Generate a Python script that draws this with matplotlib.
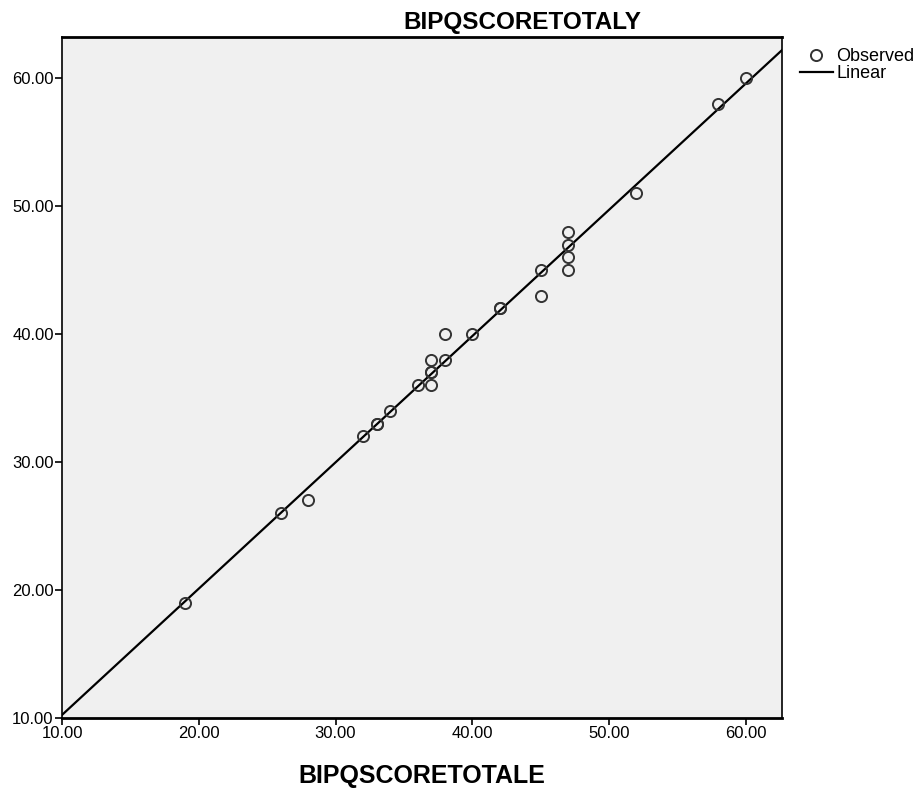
import numpy as np
import matplotlib.pyplot as plt

plt.rcParams['font.family'] = ['Liberation Sans', 'DejaVu Sans']

# observed values (BIPQ score, E vs Y)
score_e = [19, 26, 28, 32, 33, 33, 34, 36, 37, 37, 37, 37, 38, 38, 40, 42, 42,
           45, 45, 47, 47, 47, 47, 52, 58, 60]
score_y = [19, 26, 27, 32, 33, 33, 34, 36, 37, 37, 38, 36, 38, 40, 40, 42, 42,
           45, 43, 48, 47, 46, 45, 51, 58, 60]
xticks = [10, 20, 30, 40, 50, 60]
yticks = [10, 20, 30, 40, 50, 60]

x = np.array(score_e, dtype=float)
y = np.array(score_y, dtype=float)
b, a = np.polyfit(x, y, 1)

fig = plt.figure(figsize=(9.19, 7.93), dpi=100)
ax = fig.add_axes([0.0675, 0.0946, 0.7835, 0.8585])
ax.set_facecolor('#f0f0f0')

xmin, xmax = 10, 62.65
ax.set_xlim(xmin, xmax)
ax.set_ylim(10, 63.2)

x_fit = np.array([xmin, xmax])
ax.plot(x_fit, a + b * x_fit, color='black', lw=1.6, label='Linear', zorder=2)
ax.plot(x, y, 'o', ms=8, mfc='none', mec='#333333', mew=1.4,
        label='Observed', zorder=3)

ax.set_xticks(xticks)
ax.set_yticks(yticks)
ax.set_xticklabels(['%.2f' % v for v in xticks], fontsize=12)
ax.set_yticklabels(['%.2f' % v for v in yticks], fontsize=12)
ax.tick_params(direction='out', length=5, width=1.2, pad=1)
for s in ax.spines.values():
    s.set_linewidth(1.2)
ax.spines['top'].set_linewidth(2)
ax.spines['bottom'].set_linewidth(2)

fig.text(0.568, 0.972, 'BIPQSCORETOTALY', fontsize=17.5, fontweight='bold',
         ha='center', va='center')
ax.set_xlabel('BIPQSCORETOTALE', fontsize=18, fontweight='bold', labelpad=16)

h, l = ax.get_legend_handles_labels()
ax.legend(h[::-1], l[::-1], loc='upper left', bbox_to_anchor=(1.01, 1.0),
          frameon=False, fontsize=13, handlelength=1.8, handletextpad=0.2,
          labelspacing=0.0, borderaxespad=0.2)

fig.savefig('out.png', dpi=100)
